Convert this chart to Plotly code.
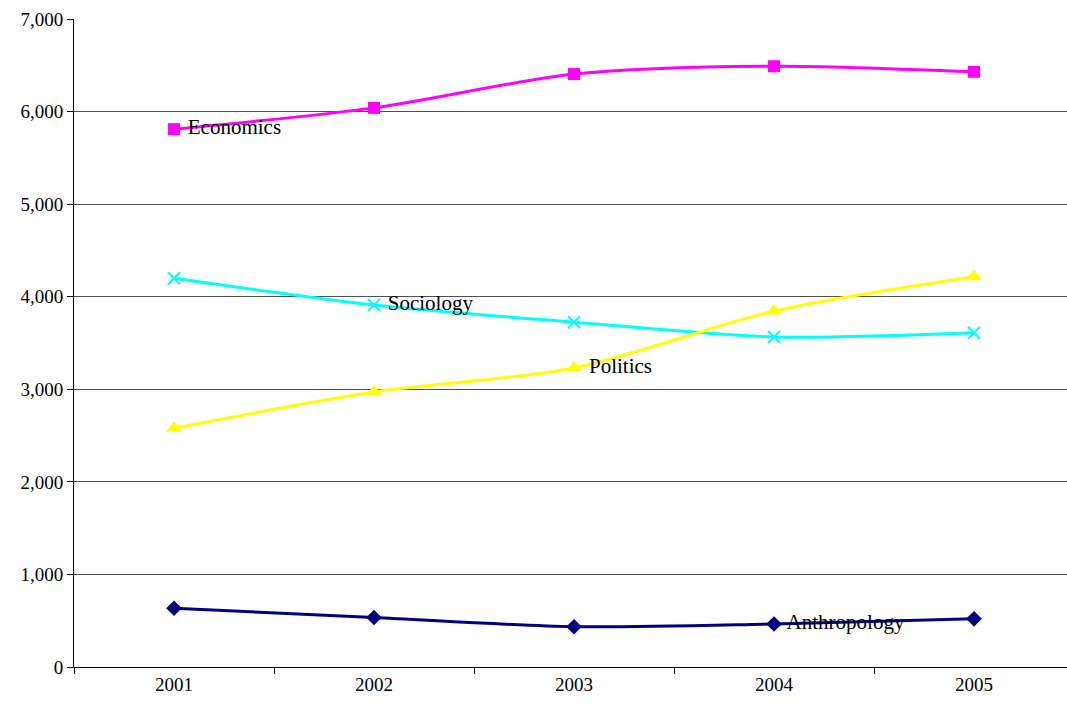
import plotly.graph_objects as go

years = ["2001", "2002", "2003", "2004", "2005"]
economics = [5810, 6040, 6405, 6490, 6430]
sociology = [4200, 3910, 3725, 3565, 3610]
politics = [2580, 2970, 3230, 3845, 4215]
anthropology = [635, 535, 435, 465, 520]
y_ticks = [0, 1000, 2000, 3000, 4000, 5000, 6000, 7000]

FONT = "Liberation Serif"

series = [
    ("Economics", economics, "#FF00FF", dict(symbol="square", size=12), 0),
    ("Sociology", sociology, "#00FFFF", dict(symbol="x-thin", size=12,
                                             line=dict(width=2, color="#00FFFF")), 1),
    ("Politics", politics, "#FFFF00", dict(symbol="triangle-up", size=14), 2),
    ("Anthropology", anthropology, "#000080", dict(symbol="diamond", size=12), 3),
]

fig = go.Figure()
for name, vals, color, marker, label_idx in series:
    labels = [" " + name if i == label_idx else "" for i in range(len(years))]
    fig.add_trace(go.Scatter(
        x=years, y=vals, name=name,
        mode="lines+markers+text",
        line=dict(color=color, width=3, shape="spline", smoothing=0.8),
        marker=dict(color=color, **marker),
        text=labels, textposition="middle right",
        textfont=dict(family=FONT, size=21, color="#000000"),
        cliponaxis=False,
    ))

fig.update_layout(
    width=1067, height=708,
    margin=dict(l=74, r=0, t=19, b=41),
    paper_bgcolor="white", plot_bgcolor="white",
    showlegend=False,
    font=dict(family=FONT, size=19, color="#000000"),
    xaxis=dict(
        type="category", range=[-0.5, 4.465],
        tickson="boundaries", ticks="outside", ticklen=6, tickcolor="#000",
        showline=True, linecolor="#000", linewidth=1,
        showgrid=False, zeroline=False,
        tickfont=dict(family=FONT, size=19, color="#000"),
    ),
    yaxis=dict(
        range=[0, 7000], tickvals=y_ticks,
        tickformat=",d",
        ticks="outside", ticklen=6, tickcolor="#000",
        showline=True, linecolor="#000", linewidth=1,
        showgrid=True, gridcolor="#505050", gridwidth=1,
        zeroline=False,
        tickfont=dict(family=FONT, size=19, color="#000"),
    ),
)

fig.write_html("out.html")
